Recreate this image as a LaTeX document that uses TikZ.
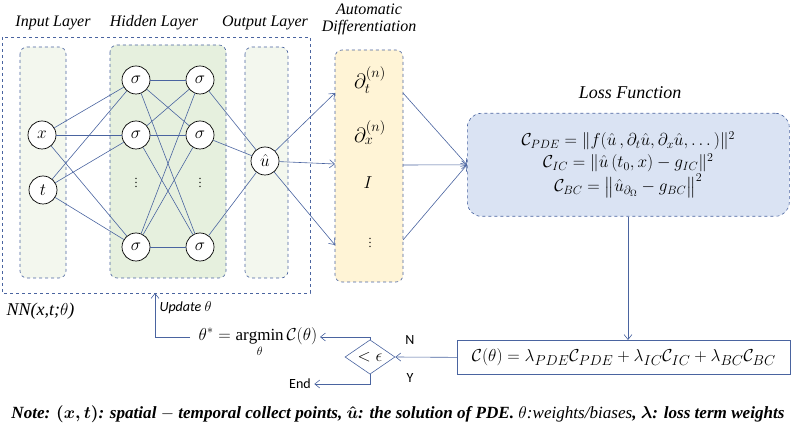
\documentclass[tikz,border=0pt]{standalone}
\usepackage{amsmath}
\usepackage{fontspec}
\setmainfont{Liberation Serif}
\newfontfamily\carl{Carlito}
\usetikzlibrary{shapes.geometric,arrows.meta}
\definecolor{ln}{HTML}{4A64A0}
\definecolor{gpale}{HTML}{F3F7EE}
\definecolor{ghid}{HTML}{E6F0DE}
\definecolor{ypale}{HTML}{FFF4D6}
\definecolor{bpale}{HTML}{DAE3F3}
\begin{document}
\begin{tikzpicture}[x=1pt,y=-1pt,
  lay/.style={draw=ln,dashed,rounded corners=7pt,line width=0.6pt},
  neu/.style={circle,draw=black,fill=white,minimum size=28pt,inner sep=0pt,line width=0.7pt,font=\fontsize{17}{19}\selectfont},
  con/.style={draw=ln,line width=0.6pt},
  arr/.style={draw=ln,line width=0.6pt,-{Straight Barb[length=5pt,width=8pt]}},
  ttl/.style={font=\itshape\fontsize{16}{17}\selectfont},
  sml/.style={font=\carl\fontsize{14}{16}\selectfont}]
\useasboundingbox (0,0) rectangle (797,427);
\draw[draw=ln,dashed,line width=0.7pt] (2,37) rectangle (310,293);
\draw[lay,fill=gpale] (20,47) rectangle (66,278);
\draw[lay,fill=ghid] (110,45) rectangle (226,278);
\draw[lay,fill=gpale] (245,47) rectangle (288,278);
\draw[lay,fill=ypale] (335,50) rectangle (403,282);
\node[ttl] at (53,23) {Input Layer};
\node[ttl] at (154,23) {Hidden Layer};
\node[ttl] at (265,23) {Output Layer};
\node[ttl,align=center] at (369,19) {Automatic\\Differentiation};
\node[neu] (x) at (42,135) {$x$};
\node[neu] (t) at (43,190) {$t$};
\foreach \i/\y in {1/80,2/135,3/247}{
  \node[neu] (a\i) at (136,\y) {$\sigma$};
  \node[neu] (b\i) at (200,\y) {$\sigma$};}
\node[font=\large] (d1) at (136,180) {$\vdots$};
\node[font=\large] (d2) at (200,180) {$\vdots$};
\node[neu] (u) at (265,161) {$\hat u$};
\foreach \i in {1,2,3}{\draw[con] (x) -- (a\i); \draw[con] (t) -- (a\i); \draw[con] (b\i) -- (u);
  \foreach \j in {1,2,3}{\draw[con] (a\i) -- (b\j);}}
\node[font=\fontsize{20}{22}\selectfont] (p1) at (370,80) {$\partial_t^{(n)}$};
\node[font=\fontsize{20}{22}\selectfont] (p2) at (370,133) {$\partial_x^{(n)}$};
\node[font=\fontsize{18}{20}\selectfont] (p3) at (368,183) {$I$};
\node[font=\large] (p4) at (370,240) {$\vdots$};
\coordinate (e1) at (335,93); \coordinate (e2) at (335,164); \coordinate (e3) at (335,245);
\foreach \i in {1,2,3}{\draw[arr] (u) -- (e\i);}
\node[ttl,font=\itshape\fontsize{18}{20}\selectfont] at (630,93) {Loss Function};
\node[draw=ln,dashed,rounded corners=14pt,fill=bpale,line width=0.6pt,minimum width=322pt,minimum height=103pt,anchor=north west] (L) at (467,113) {};
\node[align=center,font=\fontsize{18}{21}\selectfont] at (L.center) {$\mathcal{C}_{PDE}=\|f(\hat u\,,\partial_t\hat u,\partial_x\hat u,\dots)\|^2$\\[1pt]
$\mathcal{C}_{IC}=\|\hat u\,(t_0,x)-g_{IC}\|^2$\\[1pt]$\mathcal{C}_{BC}=\bigl\|\hat u_{\partial_\Omega}-g_{BC}\bigr\|^2$};
\coordinate (f1) at (403,93); \coordinate (f2) at (403,165); \coordinate (f3) at (403,240);
\foreach \i in {1,2,3}{\draw[arr] (f\i) -- (L.west);}
\node[draw=ln,line width=0.7pt,minimum width=333pt,minimum height=34pt,anchor=north west,font=\fontsize{19}{21}\selectfont] (C) at (457,340)
 {$\mathcal{C}(\theta)=\lambda_{PDE}\mathcal{C}_{PDE}+\lambda_{IC}\mathcal{C}_{IC}+\lambda_{BC}\mathcal{C}_{BC}$};
\draw[arr] (L.south -| 628,0) -- (C.north -| 628,0);
\node[diamond,draw=ln,line width=0.6pt,minimum width=50pt,minimum height=32pt,inner sep=0pt,font=\fontsize{17}{19}\selectfont] (D) at (370,357) {$<\epsilon$};
\draw[arr] (C.west) -- (D.east);
\node[font=\fontsize{17}{19}\selectfont] (A) at (258,342) {$\theta^*=\underset{\theta}{\operatorname{argmin}}\,\mathcal{C}(\theta)$};
\coordinate (na) at (320,337);
\draw[arr] (D.north) |- (na);
\node[sml] (E) at (300,384) {End};
\draw[arr] (D.south) |- (E.east);
\node[sml] at (410,340) {N};
\node[sml] at (410,378) {Y};
\coordinate (nb) at (190,337);
\coordinate (nc) at (155,293);
\draw[arr] (nb) -| (nc);
\node[font=\carl\itshape\fontsize{14}{16}\selectfont,anchor=west] at (156,308) {Update $\theta$};
\node[font=\itshape\fontsize{18}{20}\selectfont,anchor=west] at (3,311) {NN(x,t;$\theta$)};
\node at (398,414) {\resizebox{773pt}{!}{\bfseries\itshape Note: $\boldsymbol{(x,t)}$: spatial $-$ temporal collect points, $\boldsymbol{\hat u}$: the solution of PDE. {\mdseries$\theta$:weights/biases}, $\boldsymbol\lambda$: loss term weights}};
\end{tikzpicture}
\end{document}
